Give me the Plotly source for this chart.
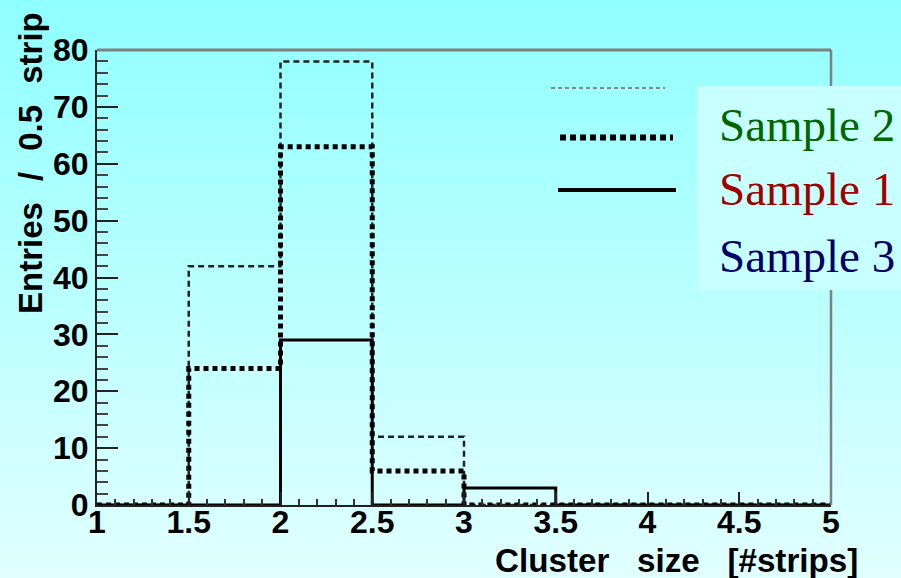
import plotly.graph_objects as go

# ---- data ----
bin_edges = [1.0, 1.5, 2.0, 2.5, 3.0, 3.5, 4.0, 4.5, 5.0]
sample2_counts = [0, 42, 78, 12, 0, 0, 0, 0]   # thin dashed
sample1_counts = [0, 24, 63, 6, 0, 0, 0, 0]    # thick dotted
sample3_counts = [0, 0, 29, 0, 3, 0, 0, 0]     # solid
legend_labels = ["Sample 2", "Sample 1", "Sample 3"]
legend_colors = ["#006600", "#a00000", "#000066"]
x_title = "Cluster\u00a0\u00a0\u00a0size\u00a0\u00a0\u00a0[#strips]"
y_title = "Entries\u00a0\u00a0\u200a/\u00a0\u00a0\u200a0.5\u00a0\u00a0\u200astrip"

W, H = 901, 578
L, R, T, B = 97, 70, 50, 73
PW, PH = W - L - R, H - T - B


def px_x(px):
    return (px - L) / PW


def px_y(py):
    return (H - B - py) / PH


def step(counts):
    return bin_edges, list(counts) + [counts[-1]]


fig = go.Figure()

x, y = step(sample2_counts)
fig.add_trace(go.Scatter(x=x, y=y, mode="lines", line_shape="hv",
                         line=dict(color="#222222", width=2.5, dash="6px,4px"),
                         showlegend=False, hoverinfo="skip"))
x, y = step(sample1_counts)
fig.add_trace(go.Scatter(x=x, y=y, mode="lines", line_shape="hv",
                         line=dict(color="#000000", width=5, dash="5px,4px"),
                         showlegend=False, hoverinfo="skip"))
x, y = step(sample3_counts)
fig.add_trace(go.Scatter(x=x, y=y, mode="lines", line_shape="hv",
                         line=dict(color="#000000", width=3),
                         showlegend=False, hoverinfo="skip"))

shapes = []
# vertical background gradient
N = 64
for i in range(N):
    py0 = H * i / N
    py1 = H * (i + 1) / N + 0.6
    mid = (py0 + py1) / 2
    r = int(round(143 + 83 * mid / H))
    shapes.append(dict(type="rect", xref="paper", yref="paper",
                       x0=px_x(-2), x1=px_x(W + 2), y0=px_y(py1), y1=px_y(py0),
                       fillcolor=f"rgb({r},255,255)", line=dict(width=0),
                       layer="below"))
# frame (top & right)
shapes.append(dict(type="line", xref="paper", yref="paper", x0=0, x1=1, y0=1, y1=1,
                   line=dict(color="#808080", width=3), layer="above"))
shapes.append(dict(type="line", xref="paper", yref="paper", x0=1, x1=1, y0=0, y1=1,
                   line=dict(color="#808080", width=2.5), layer="above"))
# legend line samples
shapes.append(dict(type="line", xref="paper", yref="paper",
                   x0=px_x(551), x1=px_x(665), y0=px_y(88), y1=px_y(88),
                   line=dict(color="#888888", width=2, dash="4px,3px"), layer="above"))
shapes.append(dict(type="line", xref="paper", yref="paper",
                   x0=px_x(560), x1=px_x(673), y0=px_y(137.5), y1=px_y(137.5),
                   line=dict(color="#000000", width=6, dash="6px,4px"), layer="above"))
shapes.append(dict(type="line", xref="paper", yref="paper",
                   x0=px_x(558), x1=px_x(676), y0=px_y(190), y1=px_y(190),
                   line=dict(color="#000000", width=4), layer="above"))
# overlay label box
shapes.append(dict(type="rect", xref="paper", yref="paper",
                   x0=px_x(697), x1=px_x(W + 2), y0=px_y(290), y1=px_y(86),
                   fillcolor="#c8ffff", line=dict(width=0), layer="above"))

annotations = []
for lab, col, py in zip(legend_labels, legend_colors, [125, 189, 256]):
    annotations.append(dict(text=lab, xref="paper", yref="paper",
                            x=px_x(717), y=px_y(py), xanchor="left", yanchor="middle",
                            showarrow=False,
                            font=dict(family="Liberation Serif, Times New Roman, serif",
                                      size=47, color=col)))
annotations.append(dict(text=x_title, xref="paper", yref="paper",
                        x=px_x(860), y=px_y(560), xanchor="right", yanchor="middle",
                        showarrow=False,
                        font=dict(family="Liberation Sans, Arial, sans-serif",
                                  size=33.2, color="#000000", weight="bold")))
annotations.append(dict(text=y_title, xref="paper", yref="paper", textangle=-90,
                        x=px_x(30), y=px_y(10), xanchor="center", yanchor="top",
                        showarrow=False,
                        font=dict(family="Liberation Sans, Arial, sans-serif",
                                  size=33, color="#000000", weight="bold")))

tickfont = dict(family="Liberation Sans, Arial, sans-serif", size=32,
                color="#000000", weight="bold")

fig.update_layout(
    width=W, height=H,
    margin=dict(l=L, r=R, t=T, b=B, pad=0),
    paper_bgcolor="#b8ffff",
    plot_bgcolor="rgba(0,0,0,0)",
    shapes=shapes,
    annotations=annotations,
    showlegend=False,
)
fig.update_xaxes(range=[1, 5], tick0=1, dtick=0.5, ticks="inside", ticklen=13,
                 tickwidth=2, tickcolor="#222222", ticklabelstandoff=-12,
                 minor=dict(ticks="inside", dtick=0.1, ticklen=6, tickwidth=2,
                            tickcolor="#333333"),
                 showgrid=False, zeroline=False, showline=True, linecolor="#222222",
                 linewidth=2, tickfont=tickfont, fixedrange=True)
fig.update_yaxes(range=[0, 80], tick0=0, dtick=10, ticks="inside", ticklen=21,
                 tickwidth=2, tickcolor="#222222",
                 minor=dict(ticks="inside", dtick=2, ticklen=11, tickwidth=2,
                            tickcolor="#444444"),
                 showgrid=False, zeroline=False, showline=True, linecolor="#222222",
                 linewidth=2, tickfont=tickfont, fixedrange=True)

fig.write_html("out.html")
